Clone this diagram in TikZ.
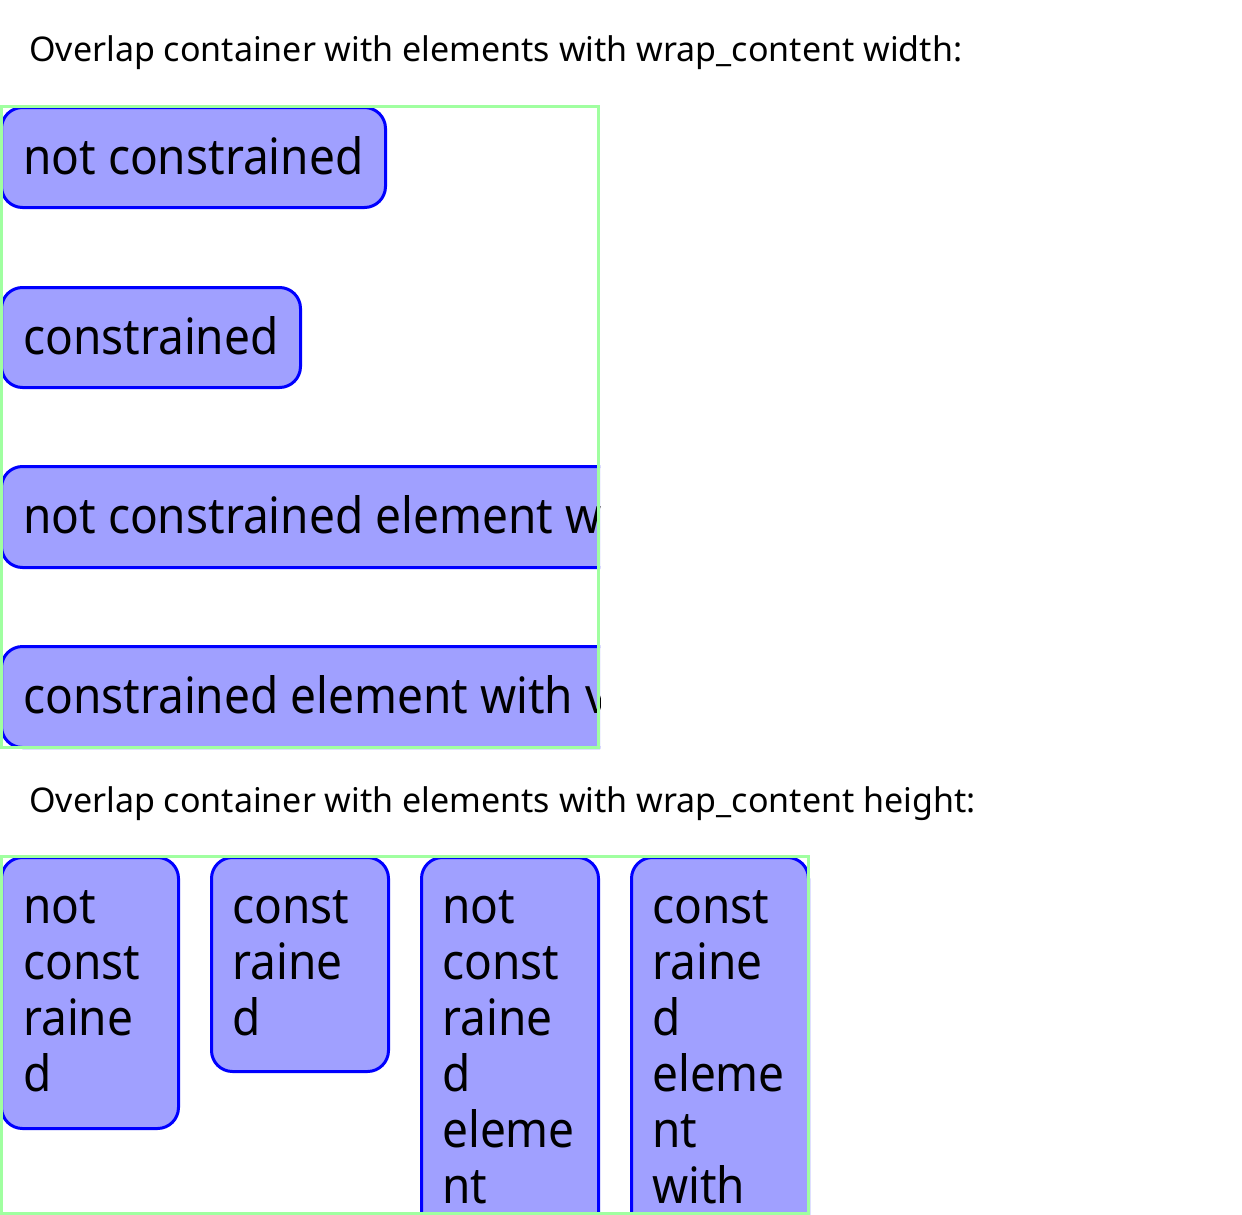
\documentclass[tikz,border=0pt]{standalone}
\usepackage{fontspec}
\setmainfont{Noto Sans}[FakeStretch=0.92]
\newfontfamily\headfont{Noto Sans}
\definecolor{frame}{HTML}{A0FFA0}
\definecolor{edge}{HTML}{0000FF}
\definecolor{itemfill}{HTML}{A0A0FF}
\begin{document}
\begin{tikzpicture}[x=1pt,y=-1pt,
  container/.style={draw=frame, line width=3pt},
  item/.style={draw=edge, fill=itemfill, line width=3pt, rounded corners=21pt},
  label/.style={anchor=base west, inner sep=0pt, align=left, text=black,
    font=\fontsize{50}{56}\selectfont},
  heading/.style={anchor=base west, inner sep=0pt, text=black,
    font=\headfont\fontsize{34}{40}\selectfont}]
\useasboundingbox (0,0) rectangle (1242,1215);

% ---- first container: wrap_content width ----
\node[heading] (title1) at (29,62) {Overlap container with elements with wrap\_content width:};
\begin{scope}
  \clip (0,105) rectangle (600,749);
  \draw[item] (1.5,107.5) rectangle (385.5,207.5);
  \draw[item] (1.5,287.5) rectangle (300.5,387.5);
  \draw[item] (1.5,466.5) rectangle (900,567.5);
  \draw[item] (1.5,646.5) rectangle (900,747.5);
  \node[label] (w1) at (23,174) {not constrained};
  \node[label] (w2) at (23,354) {constrained};
  \node[label] (w3) at (23,533) {not constrained element with};
  \node[label] (w4) at (23,713) {constrained element with very};
\end{scope}
\draw[container] (1.5,106.5) rectangle (598.5,747.5);

% ---- second container: wrap_content height ----
% multi-line labels are anchored at the baseline of their last line
\node[heading] (title2) at (29,812) {Overlap container with elements with wrap\_content height:};
\begin{scope}
  \clip (0,855) rectangle (810,1215);
  \draw[item] (1.5,857.5) rectangle (178.5,1128.5);
  \draw[item] (211.5,857.5) rectangle (388.5,1071.5);
  \draw[item] (421.5,857.5) rectangle (598.5,1300);
  \draw[item] (631.5,857.5) rectangle (808.5,1300);
  \node[label] (h1) at (23,1091) {not\\const\\raine\\d};
  \node[label] (h2) at (232,1035) {const\\raine\\d};
  \node[label] (h3) at (442,1203) {not\\const\\raine\\d\\eleme\\nt};
  \node[label] (h4) at (652,1203) {const\\raine\\d\\eleme\\nt\\with};
\end{scope}
\draw[container] (1.5,856.5) rectangle (808.5,1213.5);
\end{tikzpicture}
\end{document}
